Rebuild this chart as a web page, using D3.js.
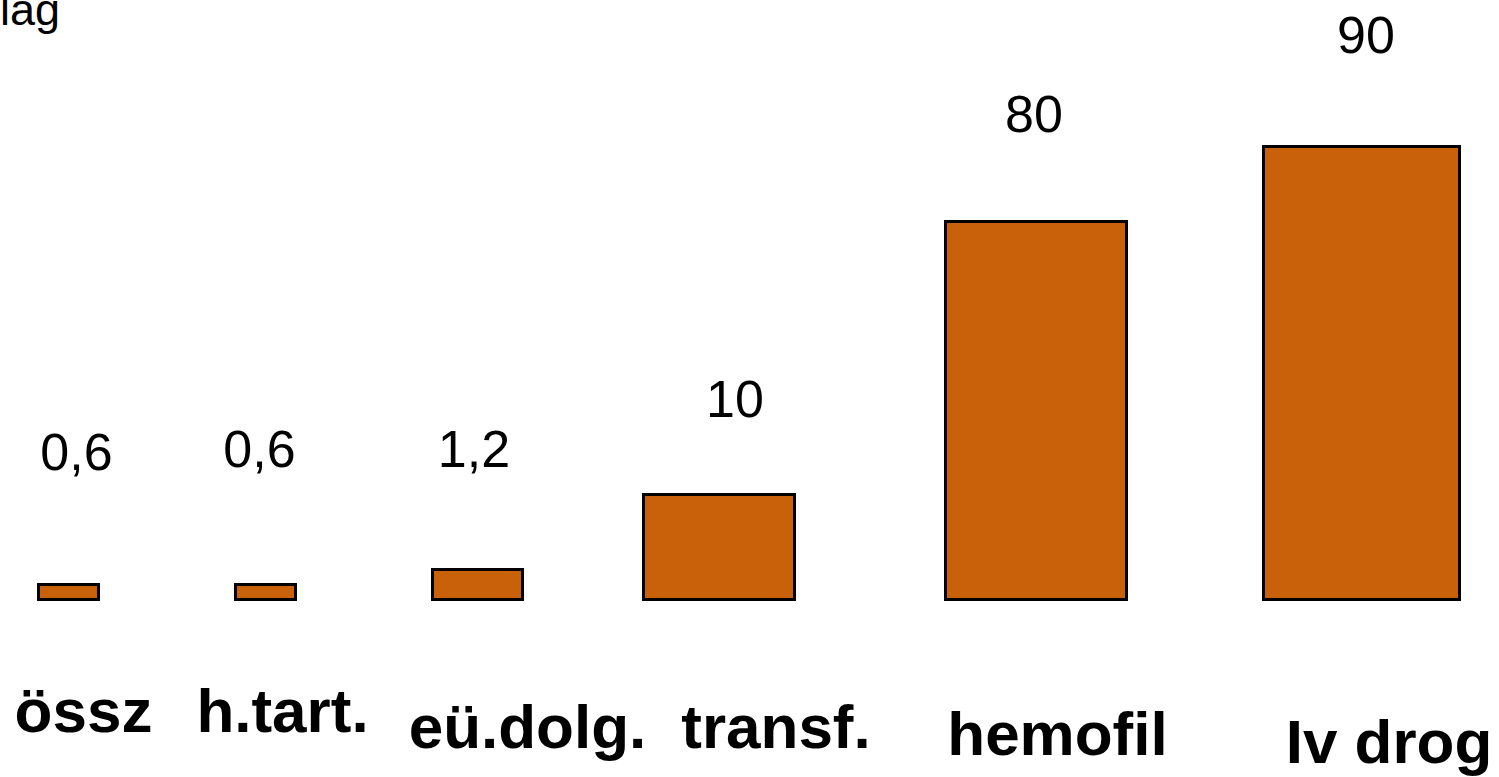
<!DOCTYPE html>
<html>
<head>
  <meta http-equiv="Content-Type" content="text/html;charset=utf-8">
  <title>Kockázat</title>
  <script type="text/javascript" src="https://d3js.org/d3.v7.min.js"></script>
  <style>
    body { margin: 0; background: #fff; }
    text { font-family: "Liberation Sans", Arial, sans-serif; fill: #000; }
  </style>
</head>
<body>
  <svg width="1499" height="777"></svg>
  <script>
    // adatok
    var categories = ["össz", "h.tart.", "eü.dolg.", "transf.", "hemofil", "Iv drog"];
    var values = [0.6, 0.6, 1.2, 10, 80, 90];
    var valueLabels = ["0,6", "0,6", "1,2", "10", "80", "90"];
    var title = "lag";

    var svg = d3.select("svg");
    var baseY = 599.5; // alapvonal

    // a dia kézzel rajzolt, nem arányos oszlopmagasság -> szakaszos skála
    var hScale = d3.scaleLinear()
      .domain([0, 0.6, 1.2, 10, 80, 90])
      .range([0, 15, 30, 105, 378, 453]);
    var wScale = d3.scaleLinear()
      .domain([0.6, 1.2, 10, 80, 90])
      .range([60, 90, 151, 181, 196]);
    // oszlopok közepe
    var xCenter = d3.scaleOrdinal()
      .domain(categories)
      .range([68.5, 265.5, 477.5, 719, 1036, 1361.5]);
    // feliratok helye
    var labelX = d3.scaleOrdinal().domain(categories)
      .range([76.5, 259.5, 474, 735, 1034, 1366]);
    var labelY = d3.scaleOrdinal().domain(categories)
      .range([470, 467, 467, 417, 132, 53]);
    var catX = d3.scaleOrdinal().domain(categories)
      .range([83.5, 282.5, 527.5, 776, 1057.5, 1389]);
    var catY = d3.scaleOrdinal().domain(categories)
      .range([732, 732, 748, 748, 755, 763]);

    var data = categories.map(function (c, i) {
      return { cat: c, value: values[i], label: valueLabels[i] };
    });

    svg.append("text")
      .attr("x", 0)
      .attr("y", 25)
      .style("font-size", "45px")
      .text(title);

    svg.selectAll("rect.bar")
      .data(data)
      .enter()
      .append("rect")
      .attr("class", "bar")
      .attr("x", function (d) { return xCenter(d.cat) - wScale(d.value) / 2; })
      .attr("y", function (d) { return baseY - hScale(d.value); })
      .attr("width", function (d) { return wScale(d.value); })
      .attr("height", function (d) { return hScale(d.value); })
      .attr("fill", "#C9600A")
      .attr("stroke", "#000")
      .attr("stroke-width", 3);

    svg.selectAll("text.val")
      .data(data)
      .enter()
      .append("text")
      .attr("class", "val")
      .attr("x", function (d) { return labelX(d.cat); })
      .attr("y", function (d) { return labelY(d.cat); })
      .attr("text-anchor", "middle")
      .style("font-size", "52px")
      .text(function (d) { return d.label; });

    svg.selectAll("text.cat")
      .data(data)
      .enter()
      .append("text")
      .attr("class", "cat")
      .attr("x", function (d) { return catX(d.cat); })
      .attr("y", function (d) { return catY(d.cat); })
      .attr("text-anchor", "middle")
      .style("font-size", "62px")
      .style("font-weight", "bold")
      .text(function (d) { return d.cat; });
  </script>
</body>
</html>
